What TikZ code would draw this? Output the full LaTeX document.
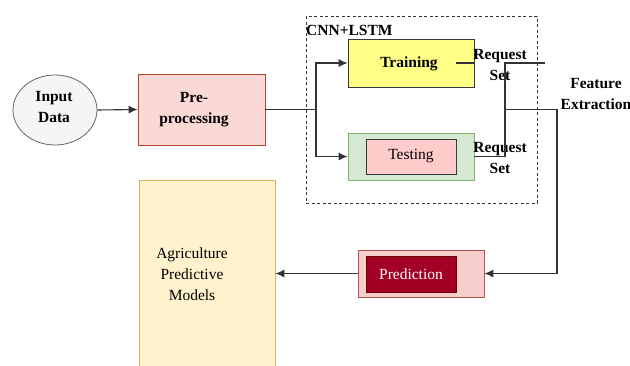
\documentclass[tikz,border=0pt]{standalone}
\usepackage{fontspec}
\setmainfont{Liberation Serif}
\usetikzlibrary{shapes.geometric, arrows.meta, positioning, calc}

\definecolor{linegray}{HTML}{333333}
\definecolor{inputfill}{HTML}{F5F5F5}
\definecolor{inputdraw}{HTML}{666666}
\definecolor{prefill}{HTML}{FAD9D5}
\definecolor{predraw}{HTML}{AE4132}
\definecolor{trainfill}{HTML}{FFFF88}
\definecolor{darkdraw}{HTML}{36393D}
\definecolor{testfill}{HTML}{D5E8D4}
\definecolor{testdraw}{HTML}{82B366}
\definecolor{testinner}{HTML}{FFCCCC}
\definecolor{predfill}{HTML}{F8CECC}
\definecolor{preddraw}{HTML}{B85450}
\definecolor{predinner}{HTML}{A20025}
\definecolor{predinnerdraw}{HTML}{6F0000}
\definecolor{agrifill}{HTML}{FFF2CC}
\definecolor{agridraw}{HTML}{D6B656}

\begin{document}
\begin{tikzpicture}[x=1pt, y=1pt,
    txt/.style={font=\fontsize{15.5}{21}\selectfont, align=center, inner sep=0pt},
    btxt/.style={txt, font=\fontsize{15.5}{21}\selectfont\bfseries},
    box/.style={draw, line width=0.8pt, inner sep=0pt},
    conn/.style={draw=linegray, line width=1.1pt},
    arr/.style={conn, -{Latex[length=9pt, width=8pt]}}]
    \useasboundingbox (0,-365) rectangle (630,0);

    % blocks
    \node[box, ellipse, draw=inputdraw, fill=inputfill, minimum width=84pt, minimum height=70pt] (input) at (55,-110) {};
    \node[btxt] (inputtxt) at (54,-107) {Input\\Data};
    \node[box, draw=predraw, fill=prefill, minimum width=127pt, minimum height=71pt] (pre) at (201.5,-109.5) {};
    \node[btxt] (pretxt) at (194,-110) {Pre-\\processing};

    \draw[linegray, line width=0.8pt, dash pattern=on 3pt off 2.5pt] (306,-16) rectangle (537,-203);
    \node[btxt, anchor=west] (cnn) at (306,-30) {CNN+LSTM};

    \node[box, draw=darkdraw, fill=trainfill, minimum width=126pt, minimum height=48pt] (train) at (411,-63) {};
    \node[btxt] (traintxt) at (409,-64) {Training};
    \node[box, draw=testdraw, fill=testfill, minimum width=126pt, minimum height=47pt] (test) at (411,-156.5) {};
    \node[box, draw=darkdraw, fill=testinner, minimum width=90pt, minimum height=35pt, txt] (testin) at (411,-156.5) {Testing};

    \node[btxt] (req1) at (500,-65) {Request\\Set};
    \node[btxt] (req2) at (500,-158) {Request\\Set};
    \node[btxt] (feat) at (596,-94) {Feature\\Extraction};

    \node[box, draw=preddraw, fill=predfill, minimum width=126pt, minimum height=47pt] (pred) at (421,-273.5) {};
    \node[box, draw=predinnerdraw, fill=predinner, minimum width=90pt, minimum height=36pt, txt, text=white] (predin) at (411,-274) {Prediction};

    \node[box, draw=agridraw, fill=agrifill, minimum width=136pt, minimum height=200pt] (agri) at (207,-280) {};
    \node[txt] (agritxt) at (192,-274) {Agriculture\\Predictive\\Models};

    % connectors
    \coordinate (split) at (316,-109.5);
    \coordinate (trin) at (456,-63);
    \coordinate (jtop) at (505,-63);
    \coordinate (jmid) at (505,-109.5);
    \coordinate (jbot) at (505,-156.5);
    \coordinate (stub) at (545,-63);
    \coordinate (turn) at (557,-109.5);

    \draw[arr] (input.east) -- (pre.west);
    \draw[conn] (pre.east) -- (split);
    \draw[arr] (split) |- (train.west);
    \draw[arr] (split) |- (test.west);
    \draw[conn] (trin) -- (train.east);
    \draw[conn] (stub) -- (jtop) -- (jbot) -- (test.east);
    \draw[arr] (jmid) -- (turn) |- (pred.east);
    \draw[arr] (pred.west) -- (pred.west -| agri.east);
\end{tikzpicture}
\end{document}
